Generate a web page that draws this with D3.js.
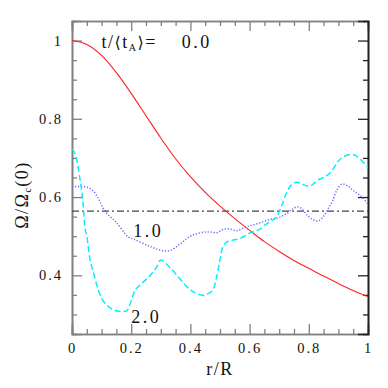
<!DOCTYPE html>
<html>
<head>
<meta charset="utf-8">
<script src="https://cdn.jsdelivr.net/npm/d3@7"></script>
<style>
body { margin: 0; background: #fff; }
svg text { font-family: "Liberation Serif", "DejaVu Serif", serif; fill: #111; }
</style>
</head>
<body>
<div id="chart"></div>
<script>
// t/<tA> = 0.0  (solid red)
const rA = [0, 0.05, 0.1, 0.15, 0.2, 0.25, 0.3, 0.35, 0.4, 0.45, 0.5, 0.55, 0.6, 0.65, 0.7, 0.75, 0.8, 0.85, 0.9, 0.95, 1.0];
const vA = [1.0, 0.99, 0.962, 0.918, 0.865, 0.808, 0.751, 0.698, 0.652, 0.612, 0.577, 0.545, 0.515, 0.486, 0.461, 0.438, 0.418, 0.398, 0.379, 0.361, 0.345];

// t/<tA> = 1.0  (dotted blue)
const rB = [0, 0.02, 0.046, 0.07, 0.09, 0.11, 0.15, 0.19, 0.21, 0.26, 0.30, 0.33, 0.365, 0.40, 0.43, 0.46, 0.49, 0.51, 0.53, 0.555, 0.59, 0.63, 0.67, 0.70, 0.725, 0.745, 0.76, 0.775, 0.795, 0.815, 0.832, 0.85, 0.865, 0.88, 0.895, 0.912, 0.93, 0.95, 0.975, 1.0];
const vB = [0.626, 0.627, 0.626, 0.617, 0.595, 0.565, 0.535, 0.498, 0.492, 0.475, 0.464, 0.463, 0.48, 0.5, 0.508, 0.511, 0.509, 0.517, 0.519, 0.514, 0.524, 0.533, 0.543, 0.548, 0.558, 0.569, 0.575, 0.571, 0.553, 0.542, 0.539, 0.551, 0.57, 0.59, 0.618, 0.633, 0.629, 0.617, 0.603, 0.583];

// t/<tA> = 2.0  (dashed cyan)
const rC = [0, 0.01, 0.027, 0.036, 0.044, 0.05, 0.061, 0.075, 0.089, 0.105, 0.123, 0.14, 0.156, 0.17, 0.185, 0.2, 0.213, 0.23, 0.247, 0.269, 0.285, 0.3, 0.314, 0.331, 0.36, 0.385, 0.405, 0.425, 0.444, 0.46, 0.475, 0.487, 0.5, 0.511, 0.525, 0.545, 0.57, 0.6, 0.635, 0.655, 0.675, 0.69, 0.708, 0.725, 0.742, 0.759, 0.78, 0.804, 0.83, 0.855, 0.877, 0.9, 0.922, 0.945, 0.965, 0.985, 1.0];
const vC = [0.722, 0.712, 0.645, 0.594, 0.52, 0.5, 0.44, 0.4, 0.362, 0.335, 0.32, 0.312, 0.308, 0.308, 0.309, 0.335, 0.362, 0.375, 0.387, 0.404, 0.42, 0.439, 0.432, 0.42, 0.395, 0.373, 0.36, 0.352, 0.349, 0.353, 0.362, 0.39, 0.44, 0.475, 0.486, 0.49, 0.495, 0.508, 0.518, 0.53, 0.54, 0.548, 0.577, 0.611, 0.632, 0.638, 0.632, 0.628, 0.643, 0.652, 0.666, 0.692, 0.705, 0.709, 0.703, 0.688, 0.675];

// horizontal dash-dot reference level
const vRef = 0.564;

const timeLabels = ["0.0", "1.0", "2.0"];
const labelPos = [[0.371, 0.982], [0.207, 0.497], [0.20, 0.277]]; // r, v of label baseline start

const xMajor = [0, 0.2, 0.4, 0.6, 0.8, 1.0];
const yMajor = [0.4, 0.6, 0.8, 1.0];
const xMinor = d3.range(0.05, 1.0, 0.05).filter(v => Math.abs(v / 0.2 - Math.round(v / 0.2)) > 0.01);
const yMinor = d3.range(0.3, 1.04, 0.05).filter(v => Math.abs(v / 0.2 - Math.round(v / 0.2)) > 0.01);

const width = 388, height = 388;
const margin = {left: 72, right: 20, top: 21, bottom: 54};

const svg = d3.select("#chart").append("svg")
    .attr("width", width)
    .attr("height", height);

const x = d3.scaleLinear().domain([0, 1]).range([margin.left, width - margin.right]);
const y = d3.scaleLinear().domain([0.25, 1.05]).range([height - margin.bottom, margin.top]);

const fmt = d => (d === 0 || d === 1) ? String(d) : d.toFixed(1);

function axis(gen, transform, color, values, size, labels) {
    const g = svg.append("g")
        .attr("transform", transform)
        .call(gen.tickValues(values).tickSize(-size).tickPadding(9)
              .tickFormat(labels ? fmt : ""));
    g.select(".domain").attr("stroke", color).attr("stroke-width", 1.6);
    g.selectAll(".tick line").attr("stroke", color).attr("stroke-width", 1.3);
    g.selectAll(".tick text")
        .style("font-size", "14.5px")
        .style("letter-spacing", "2px")
        .attr("fill", "#111");
    return g;
}

const bottomY = height - margin.bottom, rightX = width - margin.right;
axis(d3.axisBottom(x), `translate(0,${bottomY})`, "#808080", xMinor, 5, false);
axis(d3.axisBottom(x), `translate(0,${bottomY})`, "#808080", xMajor, 10, true);
axis(d3.axisTop(x), `translate(0,${margin.top})`, "#808080", xMinor, 5, false);
axis(d3.axisTop(x), `translate(0,${margin.top})`, "#808080", xMajor, 10, false);
axis(d3.axisLeft(y), `translate(${margin.left},0)`, "#808080", yMinor, 5, false);
axis(d3.axisLeft(y), `translate(${margin.left},0)`, "#808080", yMajor, 10, true);
axis(d3.axisRight(y), `translate(${rightX},0)`, "#222", yMinor, 5, false);
axis(d3.axisRight(y), `translate(${rightX},0)`, "#222", yMajor, 10, false);

const line = d3.line()
    .x(d => x(d[0]))
    .y(d => y(d[1]))
    .curve(d3.curveCatmullRom);

svg.append("clipPath").attr("id", "plotclip")
    .append("rect")
    .attr("x", x(0)).attr("y", y(1.05))
    .attr("width", x(1) - x(0)).attr("height", y(0.25) - y(1.05));

const plot = svg.append("g").attr("clip-path", "url(#plotclip)");

plot.append("line")
    .attr("x1", x(0)).attr("x2", x(1))
    .attr("y1", y(vRef)).attr("y2", y(vRef))
    .attr("stroke", "#444")
    .attr("stroke-width", 1.1)
    .attr("stroke-dasharray", "7,3,2,3");

plot.append("path")
    .datum(d3.zip(rA, vA))
    .attr("fill", "none")
    .attr("stroke", "#ff2020")
    .attr("stroke-width", 1.1)
    .attr("d", line);

plot.append("path")
    .datum(d3.zip(rB, vB))
    .attr("fill", "none")
    .attr("stroke", "#6a6aff")
    .attr("stroke-width", 1.5)
    .attr("stroke-dasharray", "1.2,1.8")
    .attr("d", line);

plot.append("path")
    .datum(d3.zip(rC, vC))
    .attr("fill", "none")
    .attr("stroke", "#00f0ff")
    .attr("stroke-width", 1.5)
    .attr("stroke-dasharray", "6,3")
    .attr("d", line);

// header label t/<tA>=
const head = svg.append("text")
    .attr("x", 101.5)
    .attr("y", y(labelPos[0][1]))
    .style("font-size", "18px")
    .style("letter-spacing", "1.5px");
head.append("tspan").text("t/");
head.append("tspan").style("font-family", "DejaVu Sans").style("font-size", "16px").text("⟨");
head.append("tspan").text("t");
head.append("tspan").style("font-size", "10px").attr("dy", 3).text("A");
head.append("tspan").style("font-family", "DejaVu Sans").style("font-size", "16px").attr("dy", -3).text("⟩");
head.append("tspan").text("=");

svg.selectAll("text.tlab")
    .data(timeLabels)
    .enter().append("text")
    .attr("class", "tlab")
    .attr("x", (d, i) => x(labelPos[i][0]))
    .attr("y", (d, i) => y(labelPos[i][1]))
    .style("font-size", "18px")
    .style("letter-spacing", "2.5px")
    .text(d => d);

// axis titles
svg.append("text")
    .attr("x", x(0.5))
    .attr("y", 375)
    .attr("text-anchor", "middle")
    .style("font-size", "18px")
    .style("letter-spacing", "1.5px")
    .text("r/R");

const yt = svg.append("text")
    .attr("transform", "translate(28,195) rotate(-90)")
    .attr("text-anchor", "middle")
    .style("font-size", "18px")
    .style("letter-spacing", "1.5px");
yt.append("tspan").text("Ω/Ω");
yt.append("tspan").style("font-size", "10px").attr("dy", 3).text("c");
yt.append("tspan").attr("dy", -3).text("(0)");
</script>
</body>
</html>
